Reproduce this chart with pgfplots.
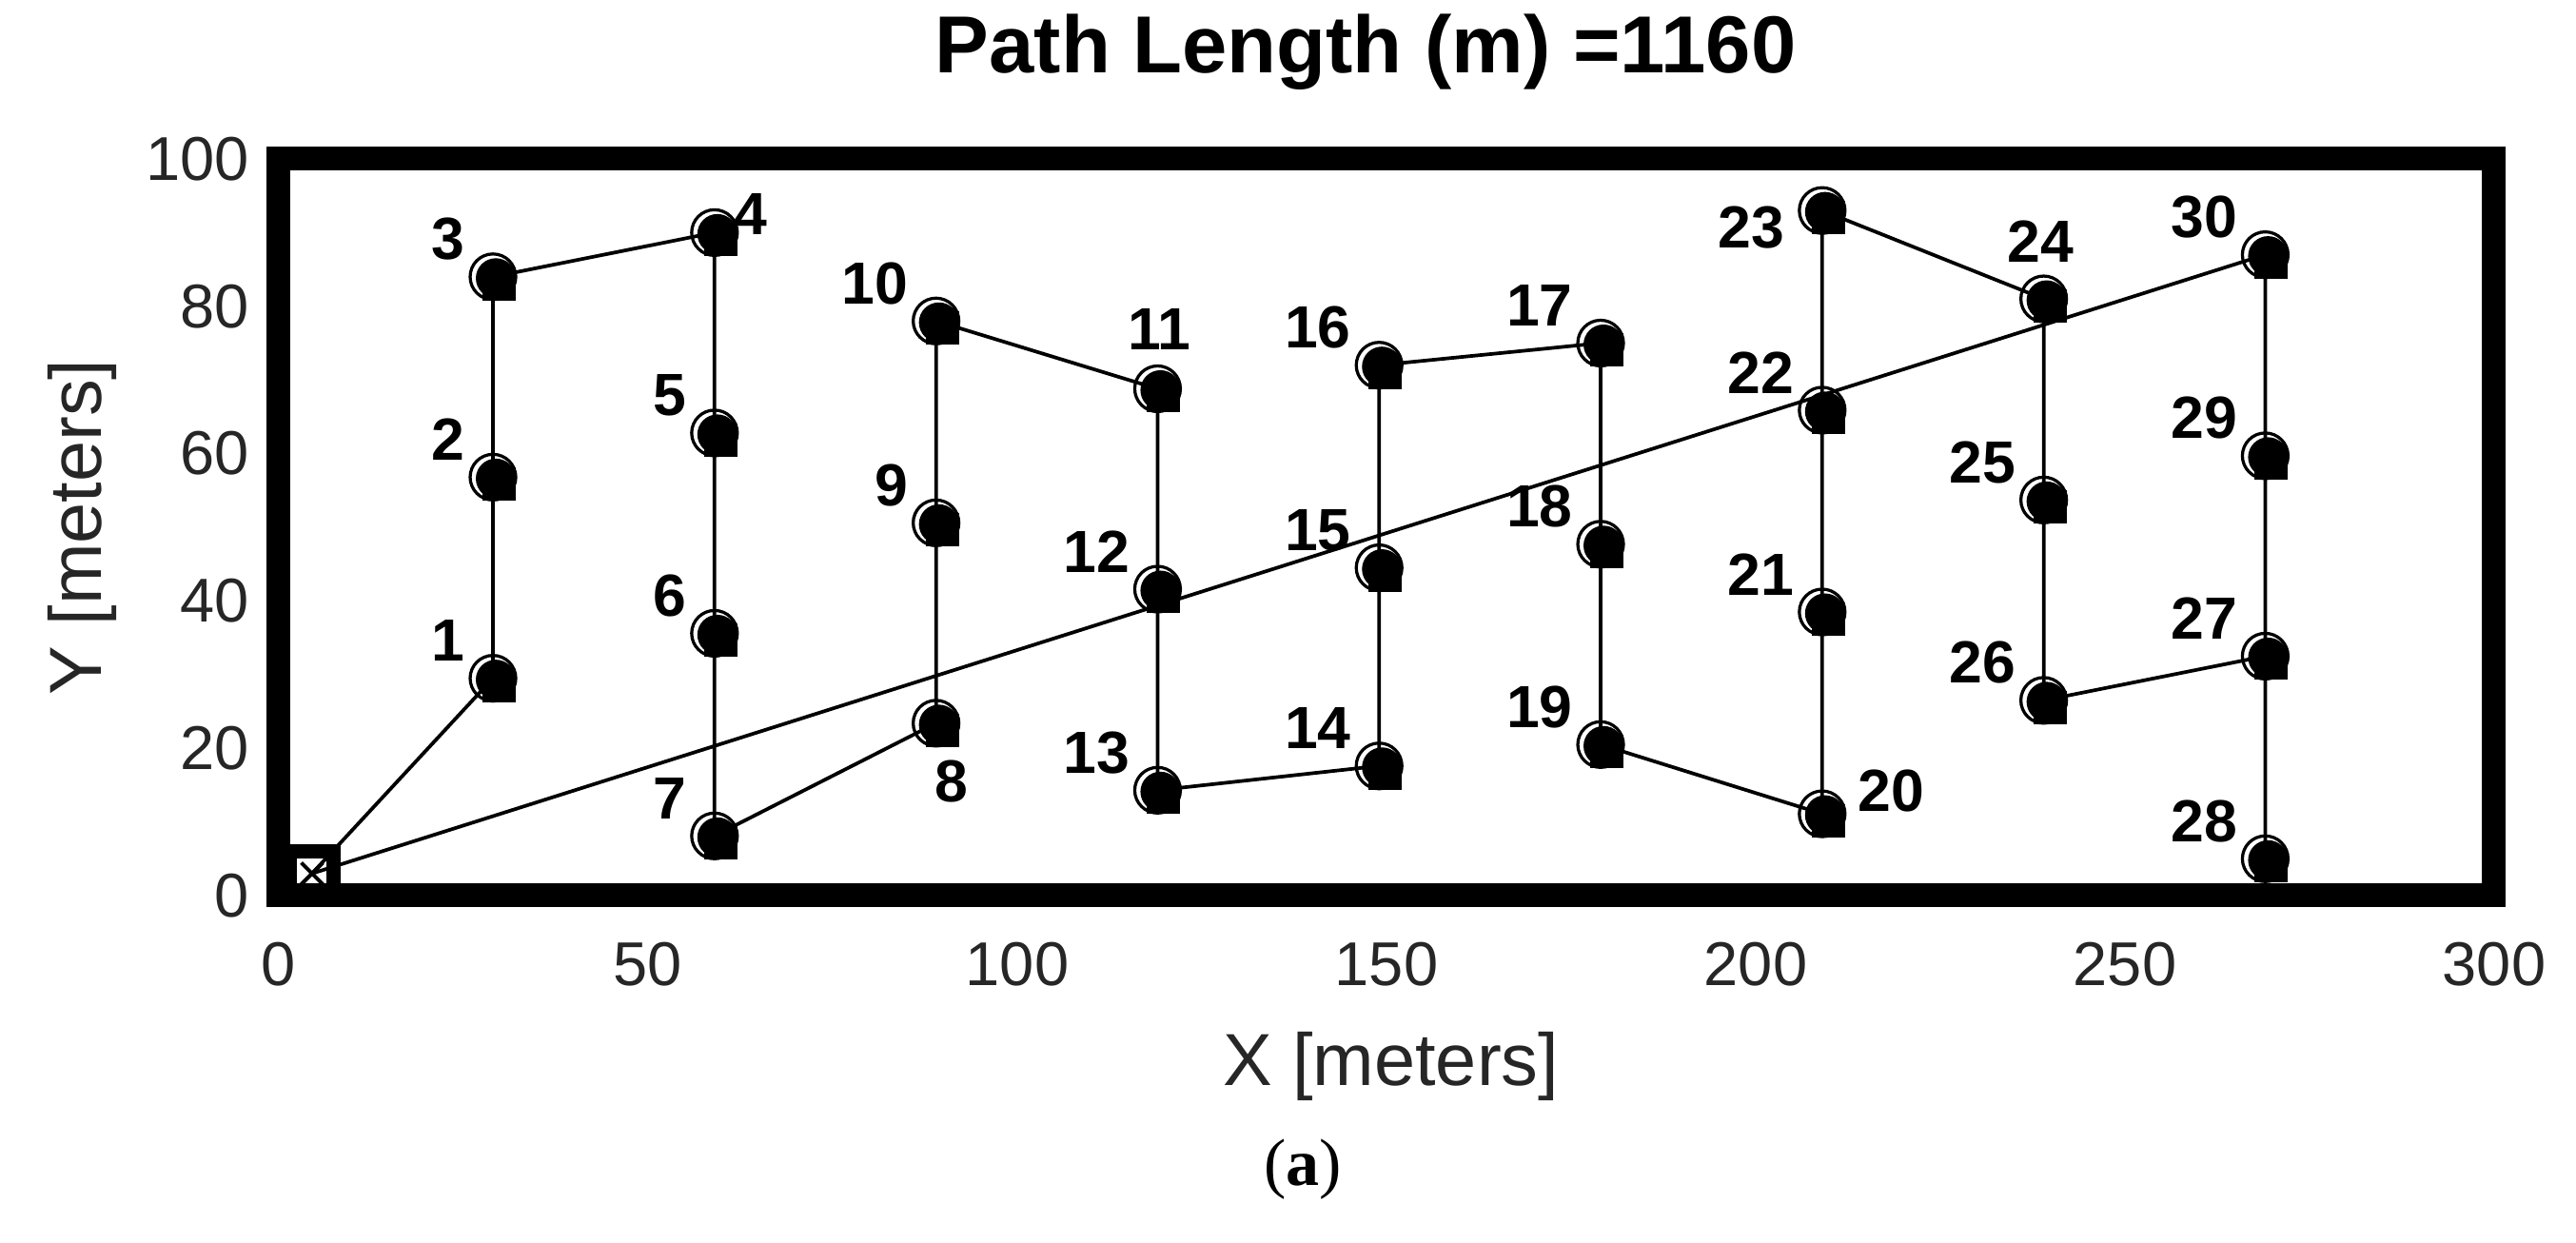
\documentclass[border=0pt]{standalone}
\usepackage{pgfplots}
\pgfplotsset{compat=1.18}
\usepackage{pgfplotstable}
\usepackage{fontspec}
\setmainfont{Liberation Sans}
\newfontfamily\serifa{Liberation Serif}
\definecolor{mgray}{HTML}{262626}

\pgfplotstableread{
x y label
29 29.5 1
29 56.8 2
29 84.0 3
59 62.8 5
59 35.6 6
59 8.1 7
89 50.6 9
89 78.0 10
119 41.6 12
119 14.3 13
149 17.6 14
149 44.5 15
149 72.0 16
179 75.0 17
179 47.7 18
179 20.5 19
209 38.5 21
209 65.9 22
239 53.7 25
239 26.5 26
269 32.5 27
269 5.0 28
269 59.7 29
269 87.0 30
}\labA

\pgfplotstableread{
x y
29 29.5
29 56.8
29 84.0
59 90.0
59 62.8
59 35.6
59 8.1
89 23.4
89 50.6
89 78.0
119 68.8
119 41.6
119 14.3
149 17.6
149 44.5
149 72.0
179 75.0
179 47.7
179 20.5
209 11.1
209 38.5
209 65.9
209 93.0
239 81.0
239 53.7
239 26.5
269 32.5
269 5.0
269 59.7
269 87.0
}\pts

\begin{document}
\begin{tikzpicture}
\begin{axis}[
  scale only axis,
  width=465.6pt, height=154.8pt,
  xmin=0, xmax=300, ymin=0, ymax=100,
  xtick={0,50,...,300}, ytick={0,20,...,100},
  axis line style={draw=none},
  major tick length=0pt,
  clip=false,
  /pgf/number format/assume math mode=true,
  tick label style={font=\fontsize{13}{15}\selectfont, text=mgray},
  xticklabel style={inner sep=0pt, anchor=north, yshift=-9.6pt},
  yticklabel style={inner sep=0pt, anchor=east, xshift=-6pt},
  title={\textbf{Path Length (m) =1160}},
  title style={at={(axis description cs:0.4906,1.0775)}, anchor=base, font=\fontsize{17}{20}\selectfont, inner sep=0pt},
  xlabel={X [meters]},
  xlabel style={at={(axis description cs:0.502,-0.2584)}, anchor=base, font=\fontsize{15.5}{18}\selectfont, text=mgray, inner sep=0pt},
  ylabel={Y [meters]},
  ylabel style={at={(axis description cs:-0.0889,0.5)}, anchor=center, rotate=0, font=\fontsize{15.5}{18}\selectfont, text=mgray, inner sep=0pt},
]
% path
\addplot[black, line width=0.75pt, mark=none] coordinates {
(4.5,3) (29,29.5) (29,56.8) (29,84.0) (59,90.0) (59,62.8) (59,35.6) (59,8.1)
(89,23.4) (89,50.6) (89,78.0) (119,68.8) (119,41.6) (119,14.3) (149,17.6)
(149,44.5) (149,72.0) (179,75.0) (179,47.7) (179,20.5) (209,11.1) (209,38.5)
(209,65.9) (209,93.0) (239,81.0) (239,53.7) (239,26.5) (269,32.5) (269,5.0)
(269,59.7) (269,87.0) (4.5,3)};
% markers
\addplot[only marks, mark=o, mark size=4.8pt, mark options={line width=0.65pt, black}] table[x=x,y=y]{\pts};
\addplot[only marks, mark=*, mark size=4.0pt, mark options={black, xshift=0.6pt, yshift=-0.3pt}] table[x=x,y=y]{\pts};
\addplot[only marks, mark=square*, mark size=3.3pt, mark options={black, xshift=1.3pt, yshift=-1.5pt}] table[x=x,y=y]{\pts};
% start
\addplot[only marks, mark=square, mark size=4.6pt, mark options={line width=3pt, black}] coordinates {(4.5,3)};
\addplot[only marks, mark=x, mark size=3.2pt, mark options={line width=0.8pt, black}] coordinates {(4.5,3)};
% labels
\addplot[draw=none, nodes near coords, point meta=explicit symbolic,
  nodes near coords style={anchor=east, xshift=-5.7pt, yshift=7.9pt, inner sep=0pt, font=\fontsize{12.5}{14}\selectfont\bfseries, text=black}]
  table[x=x,y=y,meta=label]{\labA};
\addplot[draw=none, nodes near coords, point meta=explicit symbolic,
  nodes near coords style={anchor=west, xshift=4pt, yshift=3.8pt, inner sep=0pt, font=\fontsize{12.5}{14}\selectfont\bfseries, text=black}]
  table[meta=label]{x y label
59 90.0 4
};
\addplot[draw=none, nodes near coords, point meta=explicit symbolic,
  nodes near coords style={anchor=north, xshift=3.3pt, yshift=-7.6pt, inner sep=0pt, font=\fontsize{12.5}{14}\selectfont\bfseries, text=black}]
  table[meta=label]{x y label
89 23.4 8
};
\addplot[draw=none, nodes near coords, point meta=explicit symbolic,
  nodes near coords style={anchor=south, xshift=0.4pt, yshift=7.9pt, inner sep=0pt, font=\fontsize{12.5}{14}\selectfont\bfseries, text=black}]
  table[meta=label]{x y label
119 68.8 11
};
\addplot[draw=none, nodes near coords, point meta=explicit symbolic,
  nodes near coords style={anchor=west, xshift=7.3pt, yshift=4.8pt, inner sep=0pt, font=\fontsize{12.5}{14}\selectfont\bfseries, text=black}]
  table[meta=label]{x y label
209 11.1 20
};
\addplot[draw=none, nodes near coords, point meta=explicit symbolic,
  nodes near coords style={anchor=east, xshift=-7.8pt, yshift=-3.5pt, inner sep=0pt, font=\fontsize{12.5}{14}\selectfont\bfseries, text=black}]
  table[meta=label]{x y label
209 93.0 23
};
\addplot[draw=none, nodes near coords, point meta=explicit symbolic,
  nodes near coords style={anchor=south, xshift=-0.6pt, yshift=7.6pt, inner sep=0pt, font=\fontsize{12.5}{14}\selectfont\bfseries, text=black}]
  table[meta=label]{x y label
239 81.0 24
};
\draw[line width=5pt, line join=miter, black] (rel axis cs:0,0) rectangle (rel axis cs:1,1);
\coordinate (O) at (rel axis cs:0,0);
\node[anchor=base, inner sep=0pt, font=\serifa\fontsize{14}{16}\selectfont] at (axis description cs:0.4622,-0.394) {(\textbf{a})};
\end{axis}
\pgfresetboundingbox
\useasboundingbox (O) ++(-58.6pt,-73pt) rectangle ++(541.4pt,261.2pt);
\end{tikzpicture}
\end{document}
